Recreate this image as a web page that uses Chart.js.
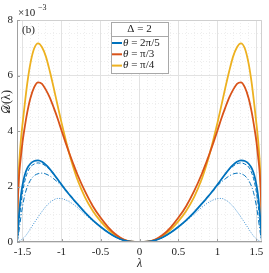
<!DOCTYPE html>
<html>
<head>
<meta charset="utf-8">
<script src="https://cdn.jsdelivr.net/npm/chart.js@4/dist/chart.umd.min.js"></script>
<style>
  html, body { margin: 0; padding: 0; background: #fff; overflow: hidden; }
</style>
</head>
<body>
<canvas id="chart" width="269" height="273"></canvas>
<script>
// lambda grid (x values)
const lambda = [-1.5708, -1.565, -1.56, -1.55, -1.54, -1.52, -1.5, -1.47, -1.44, -1.4, -1.35, -1.3, -1.25, -1.2, -1.15, -1.1, -1.05, -1.0, -0.95, -0.9, -0.85, -0.8, -0.7, -0.6, -0.5, -0.4, -0.3, -0.2, -0.1,
  0,
  0.1, 0.2, 0.3, 0.4, 0.5, 0.6, 0.7, 0.8, 0.85, 0.9, 0.95, 1.0, 1.05, 1.1, 1.15, 1.2, 1.25, 1.3, 1.35, 1.4, 1.44, 1.47, 1.5, 1.52, 1.54, 1.55, 1.56, 1.565, 1.5708];

// D(lambda), in units of 1e-3
const dTheta2pi5 = [0, 0.2, 0.38, 0.8, 1.15, 1.68, 2.05, 2.42, 2.65, 2.82, 2.92, 2.94, 2.89, 2.78, 2.63, 2.45, 2.26, 2.07, 1.88, 1.71, 1.54, 1.38, 1.07, 0.79, 0.55, 0.34, 0.17, 0.06, 0.01,
  0,
  0.01, 0.06, 0.17, 0.34, 0.55, 0.79, 1.07, 1.38, 1.54, 1.71, 1.88, 2.07, 2.26, 2.45, 2.63, 2.78, 2.89, 2.94, 2.92, 2.82, 2.65, 2.42, 2.05, 1.68, 1.15, 0.8, 0.38, 0.2, 0];
const dThetaPi3 = [0, 0.9, 1.45, 2.1, 2.55, 3.1, 3.6, 4.17, 4.66, 5.17, 5.58, 5.755, 5.7, 5.48, 5.2, 4.84, 4.45, 4.02, 3.6, 3.2, 2.82, 2.46, 1.83, 1.3, 0.88, 0.53, 0.26, 0.09, 0.015,
  0,
  0.015, 0.09, 0.26, 0.53, 0.88, 1.3, 1.83, 2.46, 2.82, 3.2, 3.6, 4.02, 4.45, 4.84, 5.2, 5.48, 5.7, 5.755, 5.58, 5.17, 4.66, 4.17, 3.6, 3.1, 2.55, 2.1, 1.45, 0.9, 0];
const dThetaPi4 = [0, 1.0, 1.6, 2.4, 2.95, 3.7, 4.25, 5.0, 5.7, 6.42, 6.98, 7.16, 7.02, 6.68, 6.15, 5.55, 4.92, 4.30, 3.72, 3.18, 2.70, 2.28, 1.62, 1.13, 0.75, 0.45, 0.22, 0.075, 0.012,
  0,
  0.012, 0.075, 0.22, 0.45, 0.75, 1.13, 1.62, 2.28, 2.70, 3.18, 3.72, 4.30, 4.92, 5.55, 6.15, 6.68, 7.02, 7.16, 6.98, 6.42, 5.7, 5.0, 4.25, 3.7, 2.95, 2.4, 1.6, 1.0, 0];
const dDashed = [0, 0.12, 0.25, 0.55, 0.85, 1.38, 1.78, 2.2, 2.48, 2.7, 2.81, 2.85, 2.82, 2.73, 2.6, 2.44, 2.25, 2.07, 1.88, 1.71, 1.54, 1.38, 1.07, 0.79, 0.55, 0.34, 0.17, 0.06, 0.01,
  0,
  0.01, 0.06, 0.17, 0.34, 0.55, 0.79, 1.07, 1.38, 1.54, 1.71, 1.88, 2.07, 2.25, 2.44, 2.6, 2.73, 2.82, 2.85, 2.81, 2.7, 2.48, 2.2, 1.78, 1.38, 0.85, 0.55, 0.25, 0.12, 0];
const dDashDot = [0, 0.06, 0.13, 0.3, 0.5, 0.92, 1.28, 1.7, 1.98, 2.22, 2.39, 2.46, 2.48, 2.45, 2.38, 2.28, 2.16, 2.03, 1.87, 1.71, 1.54, 1.38, 1.07, 0.79, 0.55, 0.34, 0.17, 0.06, 0.01,
  0,
  0.01, 0.06, 0.17, 0.34, 0.55, 0.79, 1.07, 1.38, 1.54, 1.71, 1.87, 2.03, 2.16, 2.28, 2.38, 2.45, 2.48, 2.46, 2.39, 2.22, 1.98, 1.7, 1.28, 0.92, 0.5, 0.3, 0.13, 0.06, 0];
const dDotted = [0, 0.003, 0.008, 0.02, 0.035, 0.07, 0.11, 0.19, 0.3, 0.47, 0.69, 0.9, 1.1, 1.28, 1.42, 1.52, 1.57, 1.565, 1.52, 1.45, 1.36, 1.25, 1.0, 0.76, 0.54, 0.34, 0.17, 0.058, 0.009,
  0,
  0.009, 0.058, 0.17, 0.34, 0.54, 0.76, 1.0, 1.25, 1.36, 1.45, 1.52, 1.565, 1.57, 1.52, 1.42, 1.28, 1.1, 0.9, 0.69, 0.47, 0.3, 0.19, 0.11, 0.07, 0.035, 0.02, 0.008, 0.003, 0];

const seriesLabels = ['2π/5', 'π/3', 'π/4'];
const xTicks = [-1.5, -1, -0.5, 0, 0.5, 1, 1.5];
const yTicks = [0, 2, 4, 6, 8];

const BLUE = '#0072BD', RED = '#D95319', YELLOW = '#EDB120';
const SERIF = "'Liberation Serif', 'DejaVu Serif', serif";

// minor grid positions
const xGrid = [];
for (let i = -15; i <= 15; i++) xGrid.push(i / 10);
const yGrid = [];
for (let i = 0; i <= 16; i++) yGrid.push(i / 2);

const near = (v, list) => list.some(t => Math.abs(t - v) < 1e-6);
const pts = arr => lambda.map((x, i) => ({ x: x, y: arr[i] }));

function line(label, arr, color, width, dash) {
  return {
    label: label,
    data: pts(arr),
    borderColor: color,
    backgroundColor: color,
    borderWidth: width,
    borderDash: dash || [],
    pointRadius: 0,
    fill: false,
    cubicInterpolationMode: 'monotone'
  };
}

const decorations = {
  id: 'decorations',
  afterDatasetsDraw(chart) {
    const { ctx, chartArea: a, scales: { x, y } } = chart;
    ctx.save();
    // frame
    ctx.lineWidth = 1;
    ctx.strokeStyle = '#d0d0d0';
    ctx.beginPath();
    ctx.moveTo(a.left, a.top + 0.5); ctx.lineTo(a.right - 0.5, a.top + 0.5); ctx.lineTo(a.right - 0.5, a.bottom);
    ctx.stroke();
    ctx.strokeStyle = '#a0a0a0';
    ctx.beginPath();
    ctx.moveTo(a.left + 0.5, a.top); ctx.lineTo(a.left + 0.5, a.bottom - 0.5); ctx.lineTo(a.right, a.bottom - 0.5);
    ctx.stroke();
    // inward ticks
    ctx.beginPath();
    xTicks.forEach(v => {
      const px = Math.round(x.getPixelForValue(v)) + 0.5;
      ctx.moveTo(px, a.bottom); ctx.lineTo(px, a.bottom - 3);
    });
    yTicks.forEach(v => {
      const py = Math.round(y.getPixelForValue(v)) + 0.5;
      ctx.moveTo(a.left, py); ctx.lineTo(a.left + 3, py);
    });
    ctx.stroke();
    ctx.restore();
  },
  afterDraw(chart) {
    const { ctx, chartArea: a } = chart;
    ctx.save();
    ctx.fillStyle = '#222';
    ctx.textBaseline = 'middle';

    // exponent
    ctx.font = '11px ' + SERIF;
    ctx.textAlign = 'left';
    ctx.fillText('×10', a.left + 1, 13);
    ctx.font = '8px ' + SERIF;
    ctx.fillText('−3', a.left + 21, 8);

    // panel tag
    ctx.font = '11px ' + SERIF;
    ctx.fillText('(b)', a.left + 5, 30);

    // x title
    ctx.textAlign = 'center';
    ctx.font = 'italic 12px ' + SERIF;
    ctx.fillText('λ', (a.left + a.right) / 2, 264);

    // y title
    ctx.save();
    ctx.translate(7, 102);
    ctx.rotate(-Math.PI / 2);
    ctx.font = '12px ' + SERIF;
    ctx.fillText('𝒟(λ)', 0, 0);
    ctx.restore();

    // legend box
    const cx = (a.left + a.right) / 2;
    const bx = cx - 28.5, by = a.top + 2, bw = 57, bh = 51;
    ctx.fillStyle = '#fff';
    ctx.fillRect(bx, by, bw, bh);
    ctx.strokeStyle = '#a8a8a8';
    ctx.lineWidth = 1;
    ctx.strokeRect(Math.round(bx) + 0.5, Math.round(by) + 0.5, bw, bh);
    ctx.beginPath();
    ctx.moveTo(Math.round(bx), Math.round(by + 14) + 0.5);
    ctx.lineTo(Math.round(bx + bw) + 1, Math.round(by + 14) + 0.5);
    ctx.stroke();

    ctx.fillStyle = '#222';
    ctx.font = '11px ' + SERIF;
    ctx.textAlign = 'center';
    ctx.fillText('Δ = 2', cx, by + 7.5);

    ctx.textAlign = 'left';
    chart.data.datasets.slice(0, 3).forEach((ds, i) => {
      const ly = by + 21 + i * 11.3;
      ctx.strokeStyle = ds.borderColor;
      ctx.lineWidth = 2;
      ctx.beginPath();
      ctx.moveTo(bx + 1, ly); ctx.lineTo(bx + 11, ly);
      ctx.stroke();
      ctx.font = 'italic 11px ' + SERIF;
      ctx.fillText('θ', bx + 12, ly);
      const w = ctx.measureText('θ').width;
      ctx.font = '11px ' + SERIF;
      ctx.fillText(' = ' + ds.label, bx + 12 + w, ly);
    });
    ctx.restore();
  }
};

new Chart(document.getElementById('chart').getContext('2d'), {
  type: 'line',
  data: {
    datasets: [
      line(seriesLabels[0], dTheta2pi5, BLUE, 1.8),
      line(seriesLabels[1], dThetaPi3, RED, 1.8),
      line(seriesLabels[2], dThetaPi4, YELLOW, 1.8),
      line('dashed', dDashed, BLUE, 1, [4, 2]),
      line('dash-dot', dDashDot, BLUE, 1, [5, 2, 1, 2]),
      line('dotted', dDotted, '#3d90d2', 1, [1, 1.5])
    ]
  },
  options: {
    responsive: false,
    animation: false,
    layout: { padding: { left: 0, top: 20, right: 7, bottom: 0 } },
    plugins: { legend: { display: false }, tooltip: { enabled: false } },
    scales: {
      x: {
        type: 'linear',
        min: -Math.PI / 2,
        max: Math.PI / 2,
        afterBuildTicks: s => { s.ticks = xGrid.map(v => ({ value: v })); },
        afterFit: s => { s.height = 31; },
        ticks: {
          autoSkip: false,
          maxRotation: 0,
          padding: 4,
          color: '#222',
          font: { family: SERIF, size: 11 },
          callback: v => near(v, xTicks) ? String(xTicks.find(t => Math.abs(t - v) < 1e-6)) : ''
        },
        grid: {
          drawTicks: false,
          color: c => (c.tick && near(c.tick.value, xTicks)) ? '#e2e2e2' : '#eeeeee'
        },
        border: { display: false, dash: c => (c.tick && !near(c.tick.value, xTicks)) ? [1, 2] : [] }
      },
      y: {
        type: 'linear',
        min: 0,
        max: 8,
        afterBuildTicks: s => { s.ticks = yGrid.map(v => ({ value: v })); },
        afterFit: s => { s.width = 17; },
        ticks: {
          autoSkip: false,
          padding: 4,
          color: '#222',
          font: { family: SERIF, size: 11 },
          callback: v => near(v, yTicks) ? String(Math.round(v)) : ''
        },
        grid: {
          drawTicks: false,
          color: c => (c.tick && near(c.tick.value, yTicks)) ? '#e2e2e2' : '#eeeeee'
        },
        border: { display: false, dash: c => (c.tick && !near(c.tick.value, yTicks)) ? [1, 2] : [] }
      }
    }
  },
  plugins: [decorations]
});
</script>
</body>
</html>
